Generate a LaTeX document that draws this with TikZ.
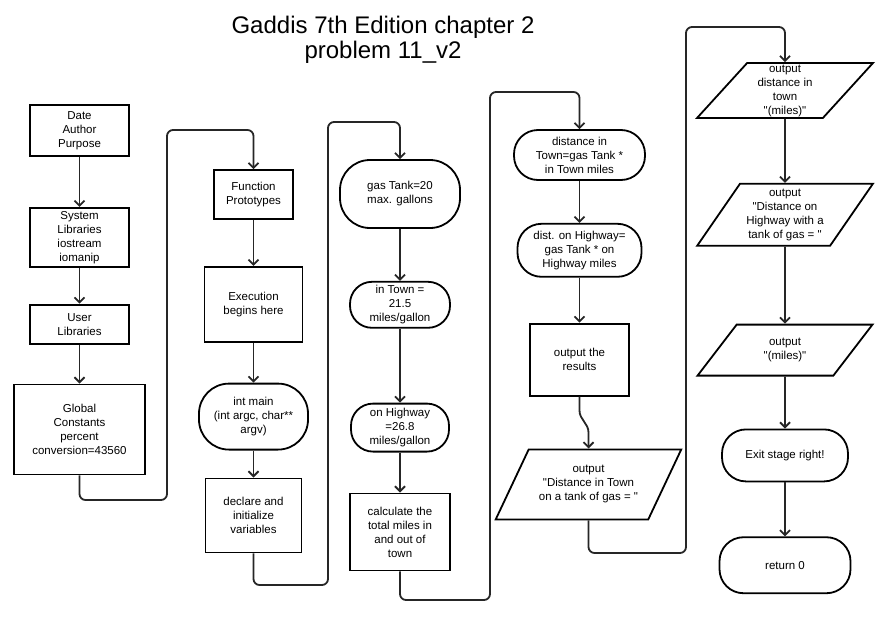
\documentclass[tikz,border=0pt]{standalone}
\usepackage{fontspec}
\setmainfont{Liberation Sans}[Ligatures=TeXOff]
\usetikzlibrary{positioning}
\usetikzlibrary{arrows.meta,shapes.geometric}

\begin{document}
\begin{tikzpicture}[x=1pt,y=1pt,
  box/.style={rectangle,draw=black,line width=1.8pt,align=center,inner sep=1pt,font=\fontsize{11.5}{14}\selectfont},
  term/.style={box,rounded corners=24pt},
  io/.style={box,trapezium,trapezium left angle=55,trapezium right angle=125,trapezium stretches=true},
  flow/.style={line width=1.8pt,draw=black!85,-{Straight Barb[length=5pt,width=10pt]}},
  loop/.style={flow,rounded corners=6pt}]
	\useasboundingbox (0,0) rectangle (876,-629);
	\node[font=\fontsize{24}{25}\selectfont,align=center,inner sep=0pt] (title) at (383,-40) {Gaddis 7th Edition chapter 2\\problem 11\_v2};
	% headers and globals
	\node[box,minimum width=99pt,minimum height=51pt] (info) at (79.5,-130.5) {Date\\Author\\Purpose};
	\node[box,minimum width=99pt,minimum height=59pt,below=50pt of info] (syslib) {System\\Libraries\\iostream\\iomanip};
	\node[box,minimum width=99pt,minimum height=39pt,below=36pt of syslib] (usrlib) {User\\Libraries};
	\node[box,minimum width=131pt,minimum height=90pt,below=39pt of usrlib] (globals) {Global\\Constants\\percent\\conversion=43560};
	% main
	\node[box,minimum width=79pt,minimum height=49pt] (proto) at (253.5,-194.5) {Function\\Prototypes};
	\node[box,minimum width=98pt,minimum height=75pt,below=46pt of proto] (exec) {Execution\\begins here};
	\node[term,rounded corners=30pt,minimum width=109pt,minimum height=66pt,below=40pt of exec] (intmain) {int main\\(int argc, char**\\argv)};
	\node[box,minimum width=96pt,minimum height=74pt,below=27pt of intmain] (decl) {declare and\\initialize\\variables};
	% inputs
	\node[term,rounded corners=30pt,minimum width=120pt,minimum height=68pt] (tank) at (400,-194) {gas Tank=20\\max. gallons};
	\node[term,rounded corners=22pt,minimum width=100pt,minimum height=46pt,below=52pt of tank] (town) {in Town =\\21.5\\miles/gallon};
	\node[term,rounded corners=22pt,minimum width=98pt,minimum height=48pt,below=74pt of town] (hwy) {on Highway\\=26.8\\miles/gallon};
	\node[box,minimum width=100pt,minimum height=77pt,below=40pt of hwy] (calc) {calculate the\\total miles in\\and out of\\town};
	% calculations
	\node[term,minimum width=131pt,minimum height=50pt] (distown) at (579.5,-155) {distance in\\Town=gas Tank *\\in Town miles};
	\node[term,minimum width=124pt,minimum height=53pt,below=42pt of distown] (disthwy) {dist. on Highway=\\gas Tank * on\\Highway miles};
	\node[box,minimum width=99pt,minimum height=72pt,below=45pt of disthwy] (results) {output the\\results};
	\node[io,minimum width=186pt,minimum height=70pt,below=52pt of results,xshift=9pt] (outtown) {output\\"Distance in Town\\on a tank of gas = "};
	% outputs
	\node[io,minimum width=176pt,minimum height=55pt] (outmi) at (785,-90.5) {output\\distance in\\town\\"(miles)"};
	\node[io,minimum width=176pt,minimum height=62pt,below=64pt of outmi] (outhwy) {output\\"Distance on\\Highway with a\\tank of gas = "};
	\node[io,minimum width=176pt,minimum height=51pt,below=77pt of outhwy] (outmiles) {output\\"(miles)"};
	\node[term,minimum width=126pt,minimum height=52pt,below=52pt of outmiles] (exit) {Exit stage right!};
	\node[term,minimum width=131pt,minimum height=56pt,below=54pt of exit] (ret) {return 0};
	% turning points between the columns
	\coordinate (c1a) at (167,-500);
	\coordinate (c1b) at (167,-130);
	\coordinate (c2a) at (328,-585);
	\coordinate (c2b) at (328,-122);
	\coordinate (c3a) at (490,-600);
	\coordinate (c3b) at (490,-92);
	\coordinate (c4a) at (686,-553);
	\coordinate (c4b) at (686,-27);
	\draw[flow] (info) -- (syslib);
	\draw[flow] (syslib) -- (usrlib);
	\draw[flow] (usrlib) -- (globals);
	\draw[loop] (globals) |- (c1a) -- (c1b) -| (proto);
	\draw[flow] (proto) -- (exec);
	\draw[flow] (exec) -- (intmain);
	\draw[flow] (intmain) -- (decl);
	\draw[loop] (decl) |- (c2a) -- (c2b) -| (tank);
	\draw[flow] (tank) -- (town);
	\draw[flow] (town) -- (hwy);
	\draw[flow] (hwy) -- (calc);
	\draw[loop] (calc) |- (c3a) -- (c3b) -| (distown);
	\draw[flow] (distown) -- (disthwy);
	\draw[flow] (disthwy) -- (results);
	\draw[flow] (results.south) -- ++(0,-14) to[out=-90,in=90] ([yshift=16pt]outtown.north) -- (outtown.north);
	\draw[loop] (outtown) |- (c4a) -- (c4b) -| (outmi);
	\draw[flow] (outmi) -- (outhwy);
	\draw[flow] (outhwy) -- (outmiles);
	\draw[flow] (outmiles) -- (exit);
	\draw[flow] (exit) -- (ret);
\end{tikzpicture}
\end{document}
